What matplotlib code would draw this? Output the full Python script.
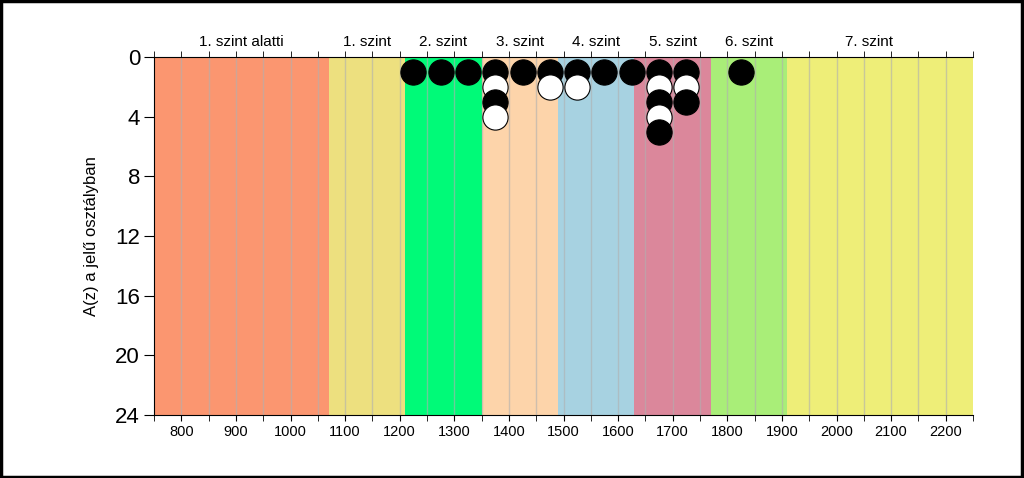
import matplotlib
matplotlib.use('Agg')
import matplotlib.pyplot as plt
from matplotlib.patches import Rectangle

plt.rcParams['font.family'] = ['Liberation Sans', 'DejaVu Sans']

# szintek (sávok)
szint_nevek = ['1. szint alatti', '1. szint', '2. szint', '3. szint', '4. szint', '5. szint', '6. szint', '7. szint']
szint_hatarok = [750, 1070, 1210, 1350, 1490, 1630, 1770, 1910, 2250]
szint_szinek = ['#FB9670', '#EDE07F', '#00FA78', '#FDD4AA', '#A7D2E1', '#DB879B', '#A9EE78', '#EEEE78']

# pontok: fekete és fehér jelölők
fekete_x = [1225, 1275, 1325, 1375, 1375, 1425, 1475, 1525, 1575, 1625, 1675, 1675, 1675, 1725, 1725, 1825]
fekete_y = [1, 1, 1, 1, 3, 1, 1, 1, 1, 1, 1, 3, 5, 1, 3, 1]
feher_x = [1375, 1375, 1475, 1525, 1675, 1675, 1725]
feher_y = [2, 4, 2, 2, 2, 4, 2]

fig = plt.figure(figsize=(10.24, 4.78), dpi=100)
ax = fig.add_axes([0.1504, 0.1318, 0.7998, 0.749])

for i in range(len(szint_nevek)):
    ax.axvspan(szint_hatarok[i], szint_hatarok[i + 1], color=szint_szinek[i], lw=0, zorder=0)

for x in range(800, 2250, 50):
    ax.axvline(x, color='#B0B0B0', lw=1, alpha=0.6, zorder=1)

# rétegenként rajzolva, hogy az alsó kör legyen felül
for szint in range(1, 6):
    fx = [fekete_x[i] for i in range(len(fekete_x)) if fekete_y[i] == szint]
    fy = [szint] * len(fx)
    wx = [feher_x[i] for i in range(len(feher_x)) if feher_y[i] == szint]
    wy = [szint] * len(wx)
    ax.scatter(fx, fy, s=330, c='black', edgecolors='black', linewidths=0.8, zorder=3 + szint, clip_on=False)
    ax.scatter(wx, wy, s=330, c='white', edgecolors='black', linewidths=0.8, zorder=3 + szint, clip_on=False)

ax.set_xlim(750, 2250)
ax.set_ylim(24, 0)
ax.set_xticks(range(800, 2250, 100))
ax.set_xticks(range(750, 2251, 50), minor=True)
ax.set_yticks(range(0, 25, 4))
ax.tick_params(axis='x', which='both', direction='out', length=4, labelsize=10.5)
ax.tick_params(axis='y', direction='out', length=7, labelsize=16, pad=3)
ax.set_ylabel('A(z) a jelű osztályban', fontsize=12, labelpad=12)

ax.spines['right'].set_visible(False)
ax.spines['top'].set_visible(False)

top = ax.twiny()
top.set_xlim(750, 2250)
kozepek = [(szint_hatarok[i] + szint_hatarok[i + 1]) / 2 for i in range(len(szint_nevek))]
kozepek[-1] = 2060
top.set_xticks(kozepek)
top.set_xticklabels(szint_nevek, fontsize=11)
top.set_xticks(range(750, 2251, 50), minor=True)
top.tick_params(axis='x', which='major', length=0, pad=6)
top.tick_params(axis='x', which='minor', direction='out', length=4)
for s in ['right', 'bottom', 'left']:
    top.spines[s].set_visible(False)

fig.patches.append(Rectangle((0.001, 0.002), 0.997, 0.995, transform=fig.transFigure,
                             fill=False, edgecolor='black', lw=2.5))

plt.savefig('out.png', dpi=100)
